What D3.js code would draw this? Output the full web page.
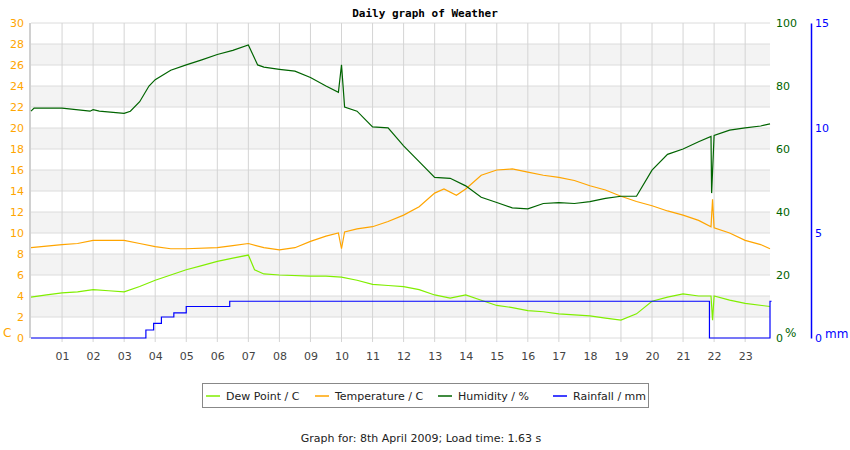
<!DOCTYPE html><html><head><script src="https://cdn.jsdelivr.net/npm/d3@7"></script>
<style>body{margin:0;background:#fff}text{font-family:"DejaVu Sans",sans-serif}</style></head><body><svg id="c" width="850" height="450"></svg>
<script>
const hourTicks=["01","02","03","04","05","06","07","08","09","10","11","12","13","14","15","16","17","18","19","20","21","22","23"];
const tempTicks=[0,2,4,6,8,10,12,14,16,18,20,22,24,26,28,30];
const humTicks=[0,20,40,60,80,100];
const rainTicks=[0,5,10,15];
const humT=[0,0.1,1,1.9,2,2.2,3,3.2,3.5,3.8,4,4.5,5,5.5,6,6.5,7,7.3,7.5,8,8.5,9,9.5,9.9,10,10.1,10.5,11,11.5,12,12.5,13,13.5,14,14.5,15,15.5,16,16.5,17,17.5,18,18.5,19,19.5,20,20.5,21,21.5,21.9,21.92,22,22.5,23,23.5,23.8];
const humV=[72,73,73,72,72.5,72,71.3,72,75,80,82,85,86.7,88.3,90,91.3,93,86.7,86,85.3,84.7,82.7,80,78,86.7,73.3,72,67,66.7,61,56,51,50.7,48.3,44.7,43,41.3,41,42.7,43,42.7,43.3,44.3,45,45,53.3,58.3,60,62.3,64,46,64.3,66,66.7,67.3,68];
const tempT=[0,1,1.5,2,3,3.5,4,4.5,5,6,6.5,7,7.5,8,8.5,9,9.5,9.9,10,10.1,10.5,11,11.5,12,12.5,13,13.3,13.7,14,14.5,15,15.5,16,16.5,17,17.5,18,18.5,19,19.5,20,20.5,21,21.5,21.9,21.95,22,22.5,23,23.5,23.8];
const tempV=[8.6,8.9,9.0,9.3,9.3,9.0,8.7,8.5,8.5,8.6,8.8,9.0,8.6,8.4,8.6,9.2,9.7,10.0,8.5,10.1,10.4,10.6,11.1,11.7,12.5,13.8,14.2,13.6,14.2,15.5,16,16.1,15.8,15.5,15.3,15.0,14.5,14.1,13.5,13.0,12.6,12.1,11.7,11.2,10.6,13.2,10.5,10.0,9.3,8.9,8.5];
const dewT=[0,0.5,1,1.5,2,2.5,3,3.5,4,4.5,5,5.5,6,6.5,7,7.2,7.5,8,9,9.5,10,10.5,11,11.5,12,12.5,13,13.5,14,14.5,15,15.5,16,16.5,17,17.5,18,18.5,19,19.5,20,20.5,21,21.5,21.9,21.95,22,22.5,23,23.8];
const dewV=[3.9,4.1,4.3,4.4,4.6,4.5,4.4,4.9,5.5,6.0,6.5,6.9,7.3,7.6,7.9,6.5,6.1,6.0,5.9,5.9,5.8,5.5,5.1,5.0,4.9,4.6,4.1,3.8,4.1,3.6,3.1,2.9,2.6,2.5,2.3,2.2,2.1,1.9,1.7,2.3,3.5,3.9,4.2,4.0,4.0,1.7,4.0,3.6,3.3,3.0];
const rainT=[0,3.7,3.95,4.2,4.6,5.0,6.4,21.85,23.8,23.85];
const rainV=[0,0.38,0.7,1.0,1.2,1.5,1.75,0,1.75,1.75];
const legend=[["Dew Point / C","#80ee00"],["Temperature / C","#ffa500"],["Humidity / %","#006400"],["Rainfall / mm","#0000ff"]];

const svg=d3.select("#c");
const L=31,R=770,T=23,B=338;
const x=d3.scaleLinear().domain([0,23.8]).range([L,R]);
const yT=d3.scaleLinear().domain([0,30]).range([B,T]);
const yH=d3.scaleLinear().domain([0,100]).range([B,T]);
const yR=d3.scaleLinear().domain([0,15]).range([B,T]);
for(let i=0;i<15;i++) if(i%2==1) svg.append("rect").attr("x",L).attr("width",R-L).attr("y",yT(2*i+2)).attr("height",yT(2*i)-yT(2*i+2)).attr("fill","#f3f3f3");
tempTicks.forEach(v=>svg.append("line").attr("x1",L).attr("x2",R).attr("y1",yT(v)).attr("y2",yT(v)).attr("stroke","#dcdcdc"));
hourTicks.forEach((h,i)=>svg.append("line").attr("x1",x(i+1)).attr("x2",x(i+1)).attr("y1",T).attr("y2",B+4).attr("stroke","#d4d4d4"));
svg.append("line").attr("x1",L-1).attr("x2",L-1).attr("y1",T).attr("y2",B).attr("stroke","#d0d0d0").attr("stroke-width",2);
svg.append("text").attr("x",425).attr("y",17).attr("text-anchor","middle").attr("font-size",11).attr("font-weight","bold").style("font-family","DejaVu Sans Mono").text("Daily graph of Weather");
const la=svg.append("g").attr("transform",`translate(${L-3},0)`).call(d3.axisLeft(yT).tickValues(tempTicks).tickSize(0).tickPadding(4));
la.select(".domain").remove();la.selectAll("text").attr("fill","#ffa500").attr("font-size",11).style("font-family","DejaVu Sans");
svg.append("text").attr("x",3).attr("y",337).attr("fill","#ffa500").attr("font-size",12).text("C");
const ha=svg.append("g").attr("transform",`translate(${R},0)`).call(d3.axisRight(yH).tickValues(humTicks).tickSize(0).tickPadding(6));
ha.select(".domain").remove();ha.selectAll("text").attr("fill","#006400").attr("font-size",11).style("font-family","DejaVu Sans");
svg.append("text").attr("x",785).attr("y",337).attr("fill","#006400").attr("font-size",12).text("%");
const ra=svg.append("g").attr("transform",`translate(811,0)`).call(d3.axisRight(yR).tickValues(rainTicks).tickSize(0).tickPadding(4));
ra.select(".domain").attr("stroke","#0000ff").attr("stroke-width",1.5);ra.selectAll("text").attr("fill","#0000ff").attr("font-size",11).style("font-family","DejaVu Sans");
svg.append("text").attr("x",825).attr("y",338).attr("fill","#0000ff").attr("font-size",12).text("mm");
const xa=svg.append("g").attr("transform",`translate(0,${B})`).call(d3.axisBottom(x).tickValues(d3.range(1,24)).tickFormat((d,i)=>hourTicks[i]).tickSize(0).tickPadding(14));
xa.select(".domain").remove();xa.selectAll("text").attr("fill","#444").attr("font-size",11).style("font-family","DejaVu Sans");
function draw(ts,vs,ys,col,cv){const d=ts.map((t,i)=>[t,vs[i]]);
 svg.append("path").datum(d).attr("fill","none").attr("stroke",col).attr("stroke-width",1.2).attr("d",d3.line().x(p=>x(p[0])).y(p=>ys(p[1])).curve(cv));}
draw(dewT,dewV,yT,"#80ee00",d3.curveLinear);draw(tempT,tempV,yT,"#ffa500",d3.curveLinear);draw(humT,humV,yH,"#006400",d3.curveLinear);draw(rainT,rainV,yR,"#0000ff",d3.curveStepAfter);
svg.append("rect").attr("x",202.5).attr("y",383.5).attr("width",446).attr("height",24).attr("fill","#fff").attr("stroke","#888");
const lx=[206,315,438,553];
legend.forEach((l,i)=>{svg.append("line").attr("x1",lx[i]).attr("x2",lx[i]+14).attr("y1",396).attr("y2",396).attr("stroke",l[1]).attr("stroke-width",1.5);
 svg.append("text").attr("x",lx[i]+20).attr("y",400).attr("font-size",11).attr("fill","#222").text(l[0]);});
svg.append("text").attr("x",421).attr("y",442).attr("text-anchor","middle").attr("font-size",11).attr("fill","#222").text("Graph for: 8th April 2009; Load time: 1.63 s");
</script></body></html>
